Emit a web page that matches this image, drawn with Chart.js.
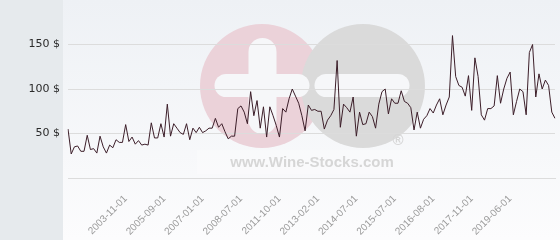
<!DOCTYPE html>
<html>
<head>
<meta charset="utf-8">
<script src="https://cdn.jsdelivr.net/npm/chart.js@4.4.1/dist/chart.umd.min.js"></script>
<style>
  html, body { margin: 0; padding: 0; background: #fff; }
  #wrap { width: 560px; height: 240px; position: relative; }
</style>
</head>
<body>
<div id="wrap"><canvas id="myChart"></canvas></div>
<script>
// price per bottle, one value per auction record
const prices = [
  55, 27, 35, 36, 30, 30, 48, 32, 33, 28,
  47, 35, 28, 37, 34, 43, 40, 40, 60, 41,
  46, 38, 42, 37, 38, 37, 62, 45, 45, 61,
  46, 83, 47, 61, 56, 51, 49, 61, 43, 56,
  51, 57, 51, 53, 56, 56, 67, 57, 61, 52,
  44, 47, 47, 78, 81, 74, 61, 97, 70, 87,
  56, 80, 46, 80, 70, 59, 46, 78, 74, 89,
  100, 92, 84, 70, 53, 82, 76, 77, 75, 75,
  55, 65, 70, 77, 132, 57, 83, 79, 74, 91,
  47, 74, 60, 61, 74, 69, 56, 83, 97, 100,
  72, 89, 84, 84, 98, 86, 84, 79, 54, 74,
  56, 66, 70, 78, 73, 82, 89, 71, 82, 91,
  160, 114, 104, 102, 92, 115, 76, 135, 114, 71,
  65, 78, 78, 81, 115, 84, 100, 112, 119, 71,
  86, 100, 97, 71, 141, 150, 91, 117, 100, 110,
  104, 74, 67
];

// dates printed under the axis (every 12th record, starting at the 19th)
const tickDates = [
  "2003-11-01", "2005-09-01", "2007-01-01", "2008-07-01", "2011-10-01",
  "2013-02-01", "2014-07-01", "2015-07-01", "2016-08-01", "2017-11-01",
  "2019-06-01"
];
const firstTick = 18;
const tickEvery = 12;

const labels = prices.map((p, i) => {
  const k = (i - firstTick) / tickEvery;
  return (i >= firstTick && Number.isInteger(k) && tickDates[k]) ? tickDates[k] : "";
});

const backdrop = {
  id: "backdrop",
  beforeDraw(chart) {
    const c = chart.ctx, w = chart.width, h = chart.height;
    c.save();
    c.fillStyle = "#e6eaed";
    c.fillRect(0, 0, 63, h);
    const g = c.createLinearGradient(0, 0, 0, h);
    g.addColorStop(0, "#eef1f5");
    g.addColorStop(1, "#fcfcfd");
    c.fillStyle = g;
    c.fillRect(63, 0, w - 63, h);

    // wine-stocks watermark
    c.fillStyle = "rgba(255,255,255,0.25)";
    c.fillRect(197, 150, 243, 24);
    c.fillStyle = "#ebd2d9";
    c.beginPath(); c.arc(262, 86, 62, 0, Math.PI * 2); c.fill();
    c.fillStyle = "#dadada";
    c.beginPath(); c.arc(363, 86, 62, 0, Math.PI * 2); c.fill();
    c.strokeStyle = "#f6f7f9";
    c.lineCap = "round";
    c.lineWidth = 28;
    c.beginPath(); c.moveTo(262.5, 52); c.lineTo(262.5, 120); c.stroke();
    c.lineWidth = 23;
    c.beginPath(); c.moveTo(226, 85.5); c.lineTo(298, 85.5); c.stroke();
    c.beginPath(); c.moveTo(326, 85.5); c.lineTo(398, 85.5); c.stroke();
    c.fillStyle = "#d6d6d6";
    c.font = "bold 15px 'Liberation Sans', Arial, sans-serif";
    c.textAlign = "center";
    c.textBaseline = "alphabetic";
    c.fillText("www.Wine-Stocks.com", 312, 167);
    c.fillText("\u00AE", 398, 145);
    c.restore();
  }
};

const ctx = document.getElementById("myChart").getContext("2d");
const myChart = new Chart(ctx, {
  type: "line",
  data: {
    labels: labels,
    datasets: [
      {
        data: prices,
        borderColor: "#3c1e29",
        borderWidth: 1,
        pointRadius: 0,
        tension: 0,
        fill: false,
      },
    ],
  },
  options: {
    responsive: true,
    maintainAspectRatio: false,
    animation: false,
    layout: { padding: { top: 0, right: 5, bottom: 0, left: 0 } },
    plugins: {
      legend: { display: false },
      tooltip: { enabled: false },
    },
    scales: {
      y: {
        min: 0,
        max: 200,
        afterFit: (s) => { s.width = 68; s.paddingTop = 0; s.paddingBottom = 0; },
        ticks: {
          stepSize: 50,
          padding: 8,
          color: "#2b2b2b",
          font: { family: "'DejaVu Sans', sans-serif", size: 11 },
          callback: (v) => (v === 0 || v === 200) ? "" : v + " $",
        },
        grid: {
          drawTicks: false,
          color: (c) => c.tick && c.tick.value === 200 ? "rgba(0,0,0,0)" : "#dcdcdc",
        },
        border: { display: false },
      },
      x: {
        afterFit: (s) => { s.height = 62; s.paddingLeft = 0; s.paddingRight = 0; },
        ticks: {
          autoSkip: false,
          maxRotation: 45,
          minRotation: 45,
          padding: 7,
          color: "#9a9a9a",
          font: { family: "'Liberation Sans', Arial, sans-serif", size: 10 },
        },
        grid: { display: false },
        border: { color: "#dcdcdc" },
      },
    },
  },
  plugins: [backdrop],
});
</script>
</body>
</html>
